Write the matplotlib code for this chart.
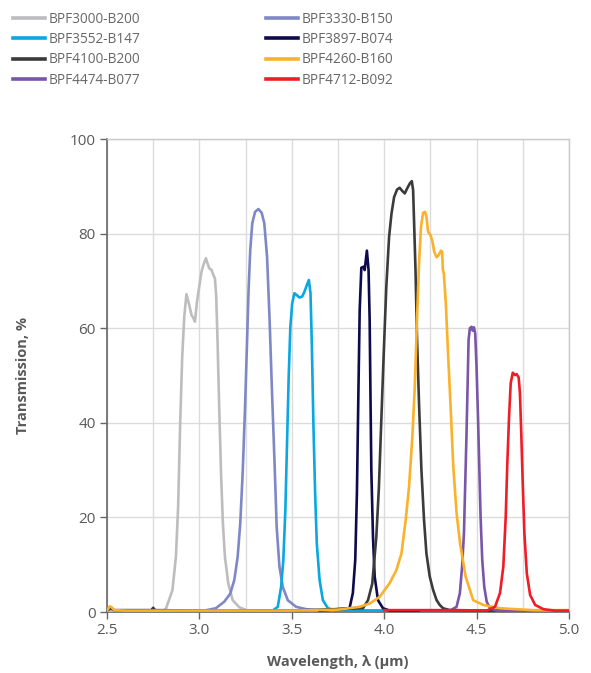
import matplotlib
matplotlib.use('Agg')
import matplotlib.pyplot as plt
from matplotlib.ticker import MultipleLocator

# wavelength (um) / transmission (%)
wl_3000 = [2.50, 2.60, 2.70, 2.80, 2.818, 2.854, 2.873, 2.885, 2.896, 2.907, 2.918, 2.930, 2.945, 2.957,
           2.968, 2.976, 2.986, 2.999, 3.011, 3.022, 3.035, 3.044, 3.053, 3.066, 3.076, 3.084,
           3.091, 3.098, 3.107, 3.117, 3.127, 3.138, 3.156, 3.180, 3.216, 3.261, 3.40, 3.60, 3.80]
tr_3000 = [0.3, 0.3, 0.3, 0.3, 0.6, 4.6, 11.7, 22.3, 39.9, 54.0, 62.4, 67.2, 64.9, 62.8,
           62.1, 61.4, 65.3, 68.8, 71.9, 73.4, 74.8, 73.7, 72.7, 72.3, 71.2, 70.5,
           66.7, 57.5, 43.4, 29.3, 18.8, 11.7, 6.1, 2.5, 1.0, 0.3, 0.3, 0.3, 0.3]

wl_3330 = [2.90, 3.026, 3.089, 3.135, 3.167, 3.189, 3.207, 3.221, 3.234, 3.247, 3.258, 3.266, 3.275,
           3.286, 3.301, 3.319, 3.337, 3.351, 3.366, 3.379, 3.393, 3.406, 3.418, 3.433, 3.451,
           3.478, 3.523, 3.578, 3.650, 3.80, 4.00]
tr_3330 = [0.3, 0.3, 0.8, 2.2, 3.9, 6.8, 11.7, 18.8, 29.3, 43.4, 57.5, 68.1, 76.5,
           82.2, 84.6, 85.2, 84.4, 82.2, 75.1, 62.5, 46.2, 32.1, 18.0, 9.6, 5.3,
           2.5, 1.1, 0.6, 0.3, 0.3, 0.3]

wl_3552 = [3.30, 3.396, 3.424, 3.442, 3.454, 3.465, 3.474, 3.483, 3.492, 3.502, 3.514, 3.527, 3.541,
           3.556, 3.568, 3.581, 3.592, 3.601, 3.608, 3.617, 3.626, 3.635, 3.650, 3.668, 3.695,
           3.740, 3.90, 4.10]
tr_3552 = [0.3, 0.3, 1.1, 5.3, 11.0, 21.6, 35.7, 49.7, 60.3, 65.3, 67.4, 67.0, 66.5,
           66.7, 67.7, 69.1, 70.2, 67.4, 56.8, 39.2, 25.1, 14.5, 6.8, 2.5, 0.8,
           0.3, 0.3, 0.3]

wl_3897 = [3.65, 3.812, 3.830, 3.843, 3.852, 3.860, 3.867, 3.876, 3.888, 3.894, 3.906, 3.915, 3.921,
           3.925, 3.930, 3.939, 3.948, 3.966, 3.993, 4.029, 4.20]
tr_3897 = [0.3, 0.8, 4.0, 11.0, 25.1, 46.2, 63.8, 72.8, 73.0, 72.3, 76.4, 72.3, 61.7,
           47.0, 30.0, 15.9, 7.5, 2.5, 0.8, 0.3, 0.3]

wl_4100 = [2.50, 2.52, 2.54, 2.60, 2.74, 2.75, 2.76, 3.00, 3.50, 3.885, 3.912, 3.935, 3.957, 3.971,
           3.984, 3.997, 4.011, 4.026, 4.039, 4.053, 4.069, 4.083, 4.098, 4.111, 4.123, 4.138,
           4.149, 4.156, 4.161, 4.169, 4.177, 4.188, 4.201, 4.215, 4.228, 4.246, 4.264, 4.283,
           4.300, 4.318, 4.355, 4.50, 4.70]
tr_4100 = [0.3, 0.8, 0.4, 0.4, 0.4, 0.9, 0.4, 0.3, 0.3, 0.8, 2.5, 6.0, 15.9, 26.4,
           40.5, 54.6, 68.7, 79.3, 84.2, 87.7, 89.3, 89.7, 89.0, 88.5, 89.5, 90.6,
           91.1, 89.2, 82.8, 72.3, 58.2, 44.1, 30.0, 19.5, 12.4, 7.5, 4.7, 2.5,
           1.5, 0.8, 0.4, 0.3, 0.3]

wl_4260 = [2.50, 2.515, 2.525, 2.54, 2.60, 3.00, 3.50, 3.75, 3.867, 3.921, 3.975, 4.029, 4.066, 4.093,
           4.116, 4.134, 4.152, 4.165, 4.177, 4.188, 4.199, 4.210, 4.221, 4.228, 4.237, 4.250,
           4.261, 4.270, 4.283, 4.295, 4.306, 4.313, 4.317, 4.322, 4.333, 4.345, 4.358, 4.373,
           4.391, 4.410, 4.440, 4.481, 4.535, 4.626, 4.80, 5.00]
tr_4260 = [0.3, 1.2, 1.0, 0.4, 0.3, 0.3, 0.3, 0.5, 1.1, 1.8, 3.2, 6.1, 8.9, 12.4,
           19.5, 26.5, 37.1, 47.6, 61.7, 73.7, 81.5, 84.4, 84.6, 83.6, 80.4, 79.7,
           78.3, 76.2, 75.0, 75.5, 76.4, 76.2, 72.3, 71.6, 65.3, 54.7, 44.1, 31.0,
           21.0, 14.5, 7.5, 2.5, 1.5, 0.8, 0.4, 0.4]

wl_4474 = [4.20, 4.355, 4.391, 4.409, 4.421, 4.431, 4.438, 4.445, 4.451, 4.456, 4.463, 4.472, 4.478,
           4.485, 4.492, 4.499, 4.507, 4.514, 4.521, 4.530, 4.541, 4.554, 4.572, 4.608, 4.80]
tr_4474 = [0.3, 0.3, 1.1, 4.0, 9.6, 16.6, 27.2, 37.8, 48.4, 57.5, 60.0, 60.3, 59.5,
           60.2, 58.9, 51.9, 41.3, 30.7, 20.1, 11.0, 5.3, 2.2, 0.8, 0.3, 0.3]

wl_4712 = [4.00, 4.20, 4.40, 4.554, 4.599, 4.626, 4.644, 4.657, 4.665, 4.675, 4.684, 4.695, 4.707,
           4.716, 4.727, 4.734, 4.741, 4.749, 4.758, 4.771, 4.789, 4.816, 4.861, 4.920, 5.00]
tr_4712 = [0.4, 0.4, 0.4, 0.3, 1.1, 4.0, 9.6, 20.1, 30.7, 41.3, 48.4, 50.6, 50.1,
           50.3, 49.6, 46.2, 37.8, 27.2, 16.6, 8.2, 3.6, 1.5, 0.6, 0.3, 0.3]

names = ['BPF3000-B200', 'BPF3330-B150', 'BPF3552-B147', 'BPF3897-B074',
         'BPF4100-B200', 'BPF4260-B160', 'BPF4474-B077', 'BPF4712-B092']
colors = ['#bdbdbf', '#7f88c6', '#0aa7e0', '#0e0b4c',
          '#3b3b3b', '#fbb12a', '#7a56a8', '#ee1d26']
series = [(wl_3000, tr_3000), (wl_3330, tr_3330), (wl_3552, tr_3552), (wl_3897, tr_3897),
          (wl_4100, tr_4100), (wl_4260, tr_4260), (wl_4474, tr_4474), (wl_4712, tr_4712)]

txt = '#595959'
plt.rcParams['font.family'] = ['Open Sans', 'DejaVu Sans']

fig = plt.figure(figsize=(5.91, 6.73), dpi=100)
ax = fig.add_axes([0.181, 0.0906, 0.782, 0.7028])

handles = {}
draw_order = [0, 1, 2, 3, 4, 6, 5, 7]  # orange and red end up on top of the baseline
for i in draw_order:
    wl, tr = series[i]
    h, = ax.plot(wl, tr, color=colors[i], lw=1.9, solid_joinstyle='round', zorder=3)
    handles[i] = h

ax.set_xlim(2.5, 5.0)
ax.set_ylim(0, 100)
ax.xaxis.set_major_locator(MultipleLocator(0.5))
ax.xaxis.set_minor_locator(MultipleLocator(0.25))
ax.yaxis.set_major_locator(MultipleLocator(20))
ax.xaxis.set_major_formatter(matplotlib.ticker.FormatStrFormatter('%.1f'))

ax.grid(True, which='both', axis='x', color='#dcdcdc', lw=1.0, zorder=0)
ax.grid(True, which='major', axis='y', color='#dcdcdc', lw=1.0, zorder=0)
ax.set_axisbelow(True)

for s in ['left', 'bottom']:
    ax.spines[s].set_color('#666666')
    ax.spines[s].set_linewidth(1.2)
for s in ['top', 'right']:
    ax.spines[s].set_color('#c8c8c8')
    ax.spines[s].set_linewidth(1.0)

ax.tick_params(axis='both', which='major', length=5, width=1.0, color='#666666',
               labelsize=11, labelcolor=txt, pad=3)
ax.tick_params(axis='x', which='minor', length=0)

ax.set_xlabel('Wavelength, λ (µm)', fontsize=10.5, fontweight='bold', color=txt, labelpad=12)
ax.set_ylabel('Transmission, %', fontsize=10.5, fontweight='bold', color=txt, labelpad=29)

# legend: two columns, ascending wavelength row by row
leg_order = [0, 2, 4, 6, 1, 3, 5, 7]
leg = fig.legend([handles[i] for i in leg_order], [names[i] for i in leg_order],
                 loc='upper left', bbox_to_anchor=(0.008, 0.995), ncol=2, frameon=False,
                 fontsize=9.8, handlelength=2.35, handletextpad=0.3, columnspacing=9.2,
                 labelspacing=0.4, borderaxespad=0.2)
for t in leg.get_texts():
    t.set_color('#676767')
for l in leg.get_lines():
    l.set_linewidth(2.6)

fig.savefig('out.png', dpi=100)
